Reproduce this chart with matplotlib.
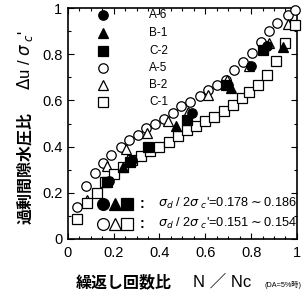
import matplotlib
matplotlib.use("Agg")
import matplotlib.pyplot as plt
from matplotlib.ticker import MultipleLocator

plt.rcParams['font.family'] = ['Liberation Sans', 'Noto Sans CJK JP', 'DejaVu Sans']
plt.rcParams['mathtext.fontset'] = 'dejavusans'

# ---- data ----
a6_x = [0.18, 0.28, 0.54, 0.70, 0.80, 0.87]
a6_y = [0.25, 0.34, 0.545, 0.665, 0.75, 0.835]
b1_x = [0.24, 0.47, 0.71, 0.94]
b1_y = [0.31, 0.49, 0.655, 0.83]
c2_x = [0.17, 0.27, 0.35, 0.52, 0.69, 0.85]
c2_y = [0.245, 0.335, 0.40, 0.515, 0.665, 0.82]
a5_x = [0.04, 0.08, 0.12, 0.155, 0.19, 0.23, 0.265, 0.305, 0.34, 0.38, 0.42, 0.46,
        0.495, 0.535, 0.575, 0.61, 0.65, 0.69, 0.725, 0.765, 0.805, 0.845, 0.88,
        0.915, 0.96, 0.99]
a5_y = [0.14, 0.23, 0.285, 0.33, 0.365, 0.40, 0.43, 0.45, 0.48, 0.50, 0.52, 0.545,
        0.575, 0.595, 0.62, 0.645, 0.665, 0.69, 0.73, 0.765, 0.805, 0.855, 0.90,
        0.935, 0.97, 0.99]
b2_x = [0.085, 0.17, 0.255, 0.345, 0.435, 0.525, 0.61, 0.695, 0.79, 0.88, 0.96]
b2_y = [0.17, 0.315, 0.39, 0.46, 0.51, 0.55, 0.625, 0.69, 0.75, 0.85, 0.93]
c1_x = [0.04, 0.085, 0.125, 0.16, 0.20, 0.24, 0.28, 0.32, 0.36, 0.40, 0.44, 0.48,
        0.52, 0.56, 0.60, 0.64, 0.68, 0.72, 0.76, 0.79, 0.83, 0.87, 0.91, 0.95, 0.99]
c1_y = [0.085, 0.155, 0.20, 0.245, 0.28, 0.31, 0.34, 0.36, 0.38, 0.40, 0.42, 0.445,
        0.47, 0.49, 0.51, 0.53, 0.555, 0.58, 0.61, 0.635, 0.665, 0.71, 0.77, 0.85, 0.925]

names = ['A-6', 'B-1', 'C-2', 'A-5', 'B-2', 'C-1']
xs = [a6_x, b1_x, c2_x, a5_x, b2_x, c1_x]
ys = [a6_y, b1_y, c2_y, a5_y, b2_y, c1_y]
markers = ['o', '^', 's', 'o', '^', 's']
filled = [True, True, True, False, False, False]

x_ticks = [0, 0.2, 0.4, 0.6, 0.8, 1]
x_ticklabels = ['0', '0.2', '0.4', '0.6', '0.8', '1']
y_ticks = [0, 0.2, 0.4, 0.6, 0.8, 1]
y_ticklabels = ['0', '0.2', '0.4', '0.6', '0.8', '1']

fig = plt.figure(figsize=(3.03, 2.91), dpi=100)
ax = fig.add_axes([0.224, 0.179, 0.756, 0.793])

# draw open first then filled on top
order = [3, 4, 5, 0, 1, 2]
for i in order:
    fc = 'black' if filled[i] else 'white'
    ax.plot(xs[i], ys[i], linestyle='none', marker=markers[i], markersize=6.8,
            markerfacecolor=fc, markeredgecolor='black', markeredgewidth=0.9,
            clip_on=False, zorder=3)

# legend (manual)
leg_rows = [0.97, 0.893, 0.816, 0.742, 0.667, 0.593]
for i, name in enumerate(names):
    fc = 'black' if filled[i] else 'white'
    ax.plot([0.154], [leg_rows[i]], linestyle='none', marker=markers[i], markersize=6.8,
            markerfacecolor=fc, markeredgecolor='black', markeredgewidth=0.9, zorder=4)
    ax.text(0.355, leg_rows[i], name, fontsize=8.5, va='center', ha='left')

# annotation rows
ann_y = [0.152, 0.065]
ann_txt = [r"$\sigma_{d}$ / 2$\sigma_{\ c}$'=0.178$\sim$0.186",
           r"$\sigma_{d}$ / 2$\sigma_{\ c}$'=0.151$\sim$0.154"]
mx = [0.154, 0.206, 0.259]
for r in range(2):
    for k, m in enumerate(['o', '^', 's']):
        fc = 'black' if r == 0 else 'white'
        ax.plot([mx[k]], [ann_y[r]], linestyle='none', marker=m, markersize=8.5,
                markerfacecolor=fc, markeredgecolor='black', markeredgewidth=0.9, zorder=4)
    ax.text(0.315, ann_y[r], ':', fontsize=10, va='center', ha='left', fontweight='bold')
    ax.text(0.999, ann_y[r], ann_txt[r], fontsize=9.2, va='center', ha='right')

ax.set_xlim(0, 1)
ax.set_ylim(0, 1)
ax.set_xticks(x_ticks)
ax.set_xticklabels(x_ticklabels)
ax.set_yticks(y_ticks)
ax.set_yticklabels(y_ticklabels)
ax.xaxis.set_minor_locator(MultipleLocator(0.05))
ax.yaxis.set_minor_locator(MultipleLocator(0.1))
ax.tick_params(which='both', direction='in', top=True, right=True, labelsize=10.5, width=0.8)
ax.tick_params(which='major', length=4)
ax.tick_params(which='minor', length=2.5)
ax.tick_params(axis='x', pad=5)
ax.tick_params(axis='y', pad=4)
for s in ax.spines.values():
    s.set_linewidth(1.2)

# axis labels
fig.text(0.083, 0.423, '過剰間隙水圧比', rotation=90, fontsize=11.5,
         family=['Noto Sans CJK JP'], ha='center', va='center', fontweight='bold')
fig.text(0.083, 0.794, r"$\Delta$u / $\sigma_{\ c}$'", rotation=90, fontsize=12,
         ha='center', va='center')
fig.text(0.409, 0.031, '繰返し回数比', fontsize=11.5, family=['Noto Sans CJK JP'],
         ha='center', va='center', fontweight='bold')
fig.text(0.637, 0.031, 'N ／ Nc', fontsize=12, family=['Liberation Sans', 'Noto Sans CJK JP'],
         ha='left', va='center')
fig.text(0.995, 0.022, '(DA=5%時)', fontsize=5.2, family=['Liberation Sans', 'Noto Sans CJK JP'],
         ha='right', va='center')

fig.savefig('out.png', dpi=100)
